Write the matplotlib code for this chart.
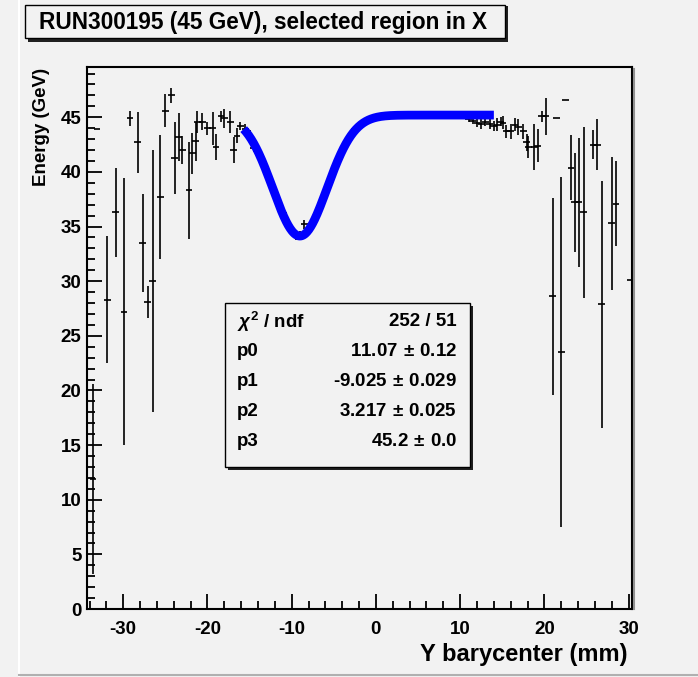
import matplotlib
matplotlib.use("Agg")
import matplotlib.pyplot as plt
from matplotlib.patches import Rectangle
from matplotlib.lines import Line2D
from matplotlib.ticker import MultipleLocator
import numpy as np

plt.rcParams["font.family"] = ["Liberation Sans", "DejaVu Sans"]
plt.rcParams["font.weight"] = "bold"
plt.rcParams["axes.unicode_minus"] = False
plt.rcParams["mathtext.fontset"] = "custom"
plt.rcParams["mathtext.it"] = "Liberation Sans:italic"
plt.rcParams["mathtext.rm"] = "Liberation Sans:bold"

W, H = 698, 677
BG = "#f2f2f2"

# measured points outside the fit range (left side)
left_x = [-33.6, -33.1, -31.9, -30.9, -29.9, -29.2, -28.3, -27.7, -27.1, -26.5,
          -25.6, -25.0, -24.3, -23.9, -23.4, -23.0, -22.2, -21.8, -21.4, -21.2,
          -20.6, -20.0, -19.4, -19.0, -18.4, -18.0, -17.3, -16.9, -16.5, -16.1]
left_y = [11.9, 43.9, 28.3, 36.3, 27.2, 44.9, 42.7, 33.5, 28.1, 30.0,
          37.7, 45.6, 47.0, 41.3, 43.2, 42.0, 38.3, 41.7, 42.8, 44.6,
          44.6, 44.0, 44.0, 42.3, 45.1, 44.9, 44.6, 42.0, 43.3, 44.2]
left_err = [8.7, 0.0, 5.8, 4.1, 12.2, 0.7, 2.8, 4.5, 1.5, 12.0,
            5.7, 1.5, 0.7, 3.3, 2.2, 1.3, 4.4, 1.9, 1.8, 1.0,
            0.8, 0.6, 1.5, 1.2, 0.5, 0.9, 1.0, 1.2, 0.7, 0.4]

# points inside the fit range (mostly hidden under the fit curve)
dip_x = [-15.5, -15.0, -14.5, -14.0, -13.5, -13.0, -12.5, -12.0, -11.5, -11.0,
         -10.5, -10.0, -9.5, -9.0, -8.5, -8.0, -7.5, -7.0, -6.5, -6.0,
         -5.5, -5.0, -4.5, -4.0, -3.5, -3.0, -2.5, -2.0, -1.5, -1.0,
         -0.5, 0.0, 0.5, 1.0, 1.5, 2.0, 2.5, 3.0, 3.5, 4.0,
         4.5, 5.0, 5.5, 6.0, 6.5, 7.0, 7.5, 8.0, 8.5, 9.0,
         9.5, 10.0, 10.5, 11.0, 11.5, 12.0, 12.5, 13.0, 13.5]
dip_y = [43.9, 43.4, 42.2, 41.9, 40.8, 40.2, 38.9, 38.1, 36.8, 36.2,
         35.1, 34.7, 34.1, 34.3, 35.2, 34.6, 35.4, 36.0, 37.2, 38.0,
         39.3, 40.1, 41.2, 41.8, 42.8, 43.2, 43.9, 44.1, 44.6, 44.6,
         44.9, 44.9, 45.0, 45.1, 45.0, 45.1, 45.0, 45.1, 45.0, 45.0,
         45.1, 45.0, 44.9, 45.0, 45.0, 44.9, 45.0, 45.0, 44.9, 45.0,
         44.9, 44.9, 45.0, 44.8, 44.7, 44.5, 44.4, 44.6, 44.4]
dip_err = [0.5, 0.4, 0.4, 0.3, 0.3, 0.3, 0.3, 0.3, 0.3, 0.3,
           0.3, 0.3, 0.3, 0.3, 0.4, 0.3, 0.3, 0.3, 0.3, 0.3,
           0.3, 0.2, 0.2, 0.2, 0.2, 0.2, 0.2, 0.2, 0.2, 0.2,
           0.1, 0.1, 0.1, 0.1, 0.1, 0.1, 0.1, 0.1, 0.1, 0.1,
           0.1, 0.1, 0.1, 0.1, 0.1, 0.1, 0.1, 0.1, 0.1, 0.1,
           0.1, 0.1, 0.1, 0.2, 0.3, 0.4, 0.5, 0.4, 0.5]

# measured points outside the fit range (right side)
right_x = [14.0, 14.4, 14.8, 15.1, 15.5, 16.0, 16.5, 16.9, 17.5, 17.9,
           18.1, 18.8, 19.2, 19.7, 20.2, 21.0, 21.45, 22.0, 22.5, 23.15,
           23.6, 24.1, 24.65, 25.8, 26.3, 26.8, 28.0, 28.5, 30.2]
right_y = [44.2, 44.3, 44.6, 44.5, 43.7, 43.7, 44.3, 44.1, 43.7, 42.7,
           42.3, 42.3, 42.4, 45.1, 45.1, 28.6, 44.9, 23.5, 46.6, 40.4,
           37.2, 37.2, 36.3, 42.5, 42.5, 27.9, 35.3, 37.1, 30.1]
right_err = [0.5, 0.6, 0.4, 0.6, 0.6, 0.7, 0.6, 0.7, 0.7, 0.8,
             1.0, 2.1, 1.5, 0.5, 1.7, 9.0, 0.0, 16.0, 0.0, 3.0,
             4.5, 5.9, 7.8, 1.3, 2.3, 11.3, 6.1, 3.9, 0.0]

x_halfwidth = 0.4

# fit result (gaussian dip on a constant)
fit_names = ["p0", "p1", "p2", "p3"]
fit_vals = [11.07, -9.025, 3.217, 45.2]
fit_errs = ["0.12", "0.029", "0.025", "0.0"]
fit_val_txt = ["11.07", "-9.025", "3.217", "45.2"]
chi2_txt = "252 / 51"
fit_range = (-15.7, 14.0)


def fx(px):
    return px / W


def fy(py):
    return 1 - py / H


fig = plt.figure(figsize=(W / 100, H / 100), dpi=100, facecolor=BG)

# canvas decorations
fig.add_artist(Line2D([fx(19), fx(19)], [0, 1], color="white", lw=1.5))
fig.add_artist(Line2D([fx(19), 1], [fy(675), fy(675)], color="#b0b0b0", lw=1.5))

ax = fig.add_axes([fx(87), fy(609), fx(632) - fx(87), fy(67) - fy(609)])
ax.set_facecolor(BG)
ax.set_xlim(-34.3, 30.4)
ax.set_ylim(0, 49.6)

all_x = left_x + dip_x + right_x
all_y = left_y + dip_y + right_y
all_err = left_err + dip_err + right_err
ax.errorbar(all_x, all_y, yerr=all_err, xerr=x_halfwidth, fmt="none",
            ecolor="black", elinewidth=1.2, capsize=0, zorder=2)

p0, p1, p2, p3 = fit_vals
xf = np.linspace(fit_range[0], fit_range[1], 400)
yf = p3 - p0 * np.exp(-0.5 * ((xf - p1) / p2) ** 2)
ax.plot(xf, yf, color="#0000ff", lw=6.3, solid_capstyle="butt", zorder=3)

ax.xaxis.set_major_locator(MultipleLocator(10))
ax.xaxis.set_minor_locator(MultipleLocator(2))
ax.yaxis.set_major_locator(MultipleLocator(5))
ax.yaxis.set_minor_locator(MultipleLocator(1))
ax.tick_params(which="both", direction="in", top=False, right=False, width=1.3,
               labelsize=13.5)
ax.tick_params(which="major", length=11)
ax.tick_params(which="minor", length=5.5)
ax.tick_params(axis="x", pad=9)
ax.tick_params(axis="y", pad=4)
for lab in ax.get_xticklabels() + ax.get_yticklabels():
    lab.set_fontweight("bold")
for s in ax.spines.values():
    s.set_linewidth(1.5)

# shadow of the frame on the right
fig.add_artist(Line2D([fx(634), fx(634)], [fy(609), fy(69)], color="#909090", lw=1.5))

fig.text(fx(628), fy(655), "Y barycenter (mm)", ha="right", va="center",
         fontsize=17, fontweight="bold")
fig.text(fx(41), fy(68), "Energy (GeV)", ha="center", va="top", rotation=90,
         fontsize=13.5, fontweight="bold")

# title box
fig.add_artist(Rectangle((fx(28), fy(42)), fx(480), fy(0) - fy(36),
                         transform=fig.transFigure, facecolor="#202020",
                         edgecolor="none", zorder=5))
fig.add_artist(Rectangle((fx(25), fy(38)), fx(480), fy(0) - fy(33),
                         transform=fig.transFigure, facecolor=BG,
                         edgecolor="black", lw=1, zorder=6))
fig.text(fx(39), fy(22), "RUN300195 (45 GeV), selected region in X",
         ha="left", va="center", fontsize=16.3, fontweight="bold", zorder=7)

# fit statistics box
fig.add_artist(Rectangle((fx(228), fy(470)), fx(245), fy(0) - fy(164),
                         transform=fig.transFigure, facecolor="#202020",
                         edgecolor="none", zorder=5))
fig.add_artist(Rectangle((fx(225), fy(467)), fx(245), fy(0) - fy(164),
                         transform=fig.transFigure, facecolor=BG,
                         edgecolor="black", lw=1, zorder=6))
rows_left = [r"$\chi^{2}$ / ndf"] + fit_names
rows_right = [chi2_txt] + [v + r"$\,\pm\,$" + e for v, e in zip(fit_val_txt, fit_errs)]
for i, (l, r) in enumerate(zip(rows_left, rows_right)):
    yy = fy(322 + i * 29.8)
    fig.text(fx(237), yy, l, ha="left", va="center", fontsize=13.5,
             fontweight="bold", zorder=7)
    fig.text(fx(457), yy, r, ha="right", va="center", fontsize=13.5,
             fontweight="bold", zorder=7)

fig.savefig("out.png", dpi=100, facecolor=BG)
